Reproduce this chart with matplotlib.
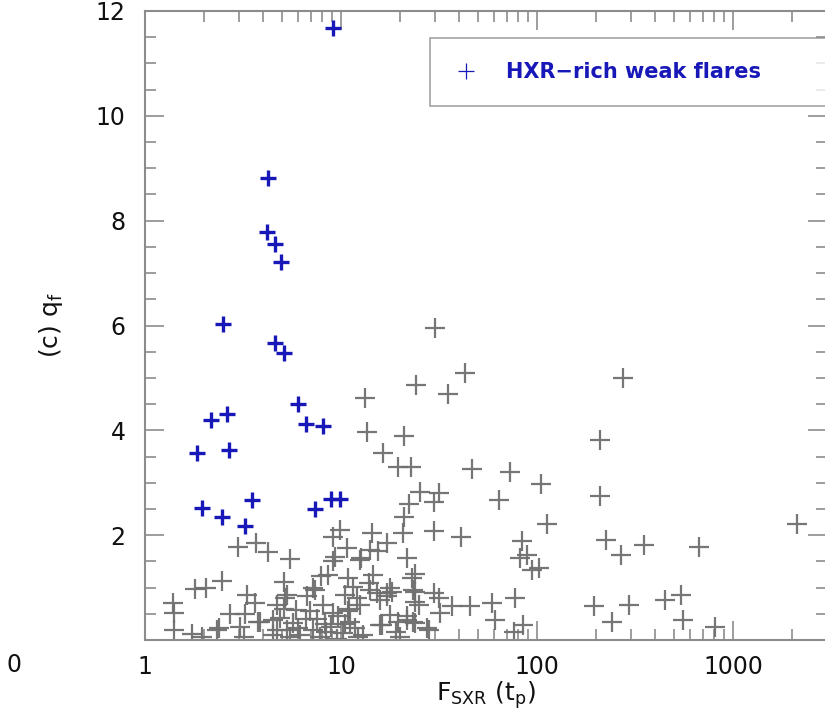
import matplotlib
matplotlib.use('Agg')
import matplotlib.pyplot as plt
from matplotlib.lines import Line2D
from matplotlib.ticker import FixedLocator, NullFormatter, LogLocator

# HXR-rich weak flares (blue)
rich_x = [9.1, 4.24, 4.2, 4.6, 4.94, 2.51, 4.6, 5.12, 6.06, 6.6, 8.07,
          2.17, 2.61, 2.69, 1.85, 1.96, 2.46, 3.5, 3.25, 7.37, 8.89, 9.9]
rich_y = [11.68, 8.82, 7.79, 7.56, 7.21, 6.03, 5.66, 5.48, 4.50, 4.12, 4.08,
          4.20, 4.31, 3.63, 3.56, 2.51, 2.34, 2.67, 2.18, 2.49, 2.69, 2.69]

# all other flares (grey)
other_x = [1.39, 1.40, 1.40, 1.73, 1.95, 2.32, 1.8, 2.05, 2.46, 2.71, 3.24, 3.30,
           3.64, 3.79, 3.05, 2.37, 4.52, 4.69, 4.52, 2.99, 3.68, 4.26, 5.49, 5.1,
           5.17, 5.9, 3.86, 4.69, 3.2,
           5.28, 5.1, 5.7, 6.2, 6.7, 7.2, 7.2, 7.5, 7.37, 8.1, 8.4, 8.6, 7.94,
           9.1, 9.1, 9.1, 9.9, 9.3, 10.2, 10.5, 10.7, 10.9, 11.1, 11.5, 12.5,
           12.5, 12.7, 13.0, 13.8, 14.1, 14.3, 14.6, 14.1, 15.2, 15.8, 15.8,
           15.5, 17.1, 17.1, 17.8, 17.8, 16.1, 18.1, 19.6, 20.0, 20.6, 20.8,
           21.6, 21.6, 21.6, 22.2, 22.9, 23.3, 23.9, 23.9, 23.9, 24.8, 23.9,
           25.3, 27.3, 29.6, 29.6, 29.6, 31.4, 31.4, 32.0, 36.7, 40.8, 45.5,
           58.7, 61.0, 77.2, 75.7, 85.0, 93.6, 101.6, 88.6, 81.9, 83.6, 63.5,
           72.6, 104.0, 112.0, 46.7, 30.2, 42.9, 24.0, 35.0, 275.0, 21.0, 16.3,
           19.4, 22.7, 13.2, 13.6, 208.0, 210.0, 224.0, 267.0, 349.0, 665.0,
           2114.0, 194.0, 240.0, 293.0, 450.0, 538.0, 554.0, 810.0,
           7.8, 8.9, 9.6, 10.8, 11.8, 12.2, 6.6, 6.0, 5.5, 9.5, 10.5, 4.9, 5.3,
           27.9, 17.2, 23.3, 19.0, 8.3, 11.0, 6.9, 12.0]
other_y = [0.70, 0.52, 0.20, 0.12, 0.06, 0.19, 0.97, 0.99, 1.12, 0.50, 0.50, 0.85,
           0.70, 0.35, 0.25, 0.22, 0.10, 0.67, 0.38, 1.78, 1.86, 1.67, 1.55, 1.11,
           0.80, 0.57, 0.35, 0.19, 0.06,
           0.86, 0.60, 0.32, 0.10, 0.83, 0.99, 0.19, 0.41, 0.95, 0.67, 0.16, 1.24, 1.22,
           1.50, 0.51, 1.97, 2.10, 1.58, 0.13, 0.86, 1.75, 1.18, 0.35, 1.02, 0.67,
           1.53, 1.56, 0.10, 1.08, 1.72, 2.04, 1.24, 0.95, 0.89, 0.76, 0.29,
           1.69, 1.85, 0.83, 0.99, 0.48, 0.29, 0.92, 0.35, 0.06, 2.04, 2.35,
           1.56, 0.38, 0.45, 2.60, 1.18, 0.95, 1.25, 0.73, 0.92, 0.67, 0.32,
           2.82, 0.22, 2.07, 2.64, 0.89, 2.80, 0.81, 0.51, 0.64, 1.96, 0.64,
           0.70, 0.38, 0.80, 0.16, 0.29, 1.34, 1.37, 1.62, 1.56, 1.88, 2.68,
           3.20, 2.97, 2.21, 3.26, 5.96, 5.10, 4.87, 4.69, 4.99, 3.90, 3.57,
           3.31, 3.31, 4.62, 3.97, 3.81, 2.74, 1.90, 1.62, 1.81, 1.78,
           2.21, 0.64, 0.35, 0.67, 0.76, 0.86, 0.39, 0.25,
           0.05, 0.25, 0.45, 0.55, 0.22, 0.05, 0.40, 0.22, 0.05, 0.02, 0.30, 0.42, 0.20,
           0.19, 0.89, 0.35, 0.15, 0.30, 0.60, 0.55, 0.80]

grey = '#6f6f6f'
blue = '#1818b8'
axcol = '#8c8c8c'

fig = plt.figure(figsize=(8.25, 7.2), dpi=100)
ax = fig.add_axes([145 / 825, 80 / 720, 682 / 825, 629 / 720])

ax.plot(other_x, other_y, '+', color=grey, ms=15, mew=1.6, alpha=0.95)
ax.plot(rich_x, rich_y, '+', color=blue, ms=12, mew=2.4)

ax.set_xscale('log')
ax.set_xlim(1, 3000)
ax.set_ylim(0, 12)

ax.set_yticks([2, 4, 6, 8, 10, 12])
ax.yaxis.set_minor_locator(FixedLocator([i * 0.5 for i in range(25)]))
ax.xaxis.set_major_locator(FixedLocator([1, 10, 100, 1000]))
ax.xaxis.set_major_formatter(matplotlib.ticker.FixedFormatter(['1', '10', '100', '1000']))
ax.xaxis.set_minor_locator(LogLocator(base=10, subs=range(2, 10)))
ax.xaxis.set_minor_formatter(NullFormatter())

ax.tick_params(which='both', direction='in', top=True, right=True, color=axcol,
               width=1.2, labelsize=17, labelcolor='#111111')
ax.tick_params(which='major', length=14)
ax.tick_params(which='minor', length=8)
ax.tick_params(axis='y', pad=14)
ax.tick_params(axis='x', pad=11)
for s in ax.spines.values():
    s.set_color(axcol)
    s.set_linewidth(1.5)

ax.set_xlabel(r'F$_{\mathrm{SXR}}$ (t$_\mathrm{p}$)', fontsize=18, color='#111111', labelpad=0)
ax.set_ylabel(r'(c) q$_\mathrm{f}$', fontsize=18, color='#111111', labelpad=22)

handle = Line2D([], [], ls='none', marker='+', color=blue, ms=11, mew=0.9)
leg = ax.legend([handle], ['HXR\u2212rich weak flares'], loc='upper left',
                bbox_to_anchor=(285 / 682, (640 - 103) / 629, 400 / 682, 65 / 629),
                mode='expand', borderaxespad=0,
                fancybox=False, frameon=True, handlelength=1.2, handletextpad=1.3,
                borderpad=1.15, prop={'size': 15, 'weight': 'bold'})
leg.get_frame().set_edgecolor(axcol)
leg.get_frame().set_linewidth(1.2)
for t in leg.get_texts():
    t.set_color(blue)

# partly visible tick label from the neighbouring panel
fig.text(14 / 825, 1 - 665 / 720, '0', fontsize=17, ha='center', va='center', color='#111111')

fig.savefig('out.png', dpi=100)
